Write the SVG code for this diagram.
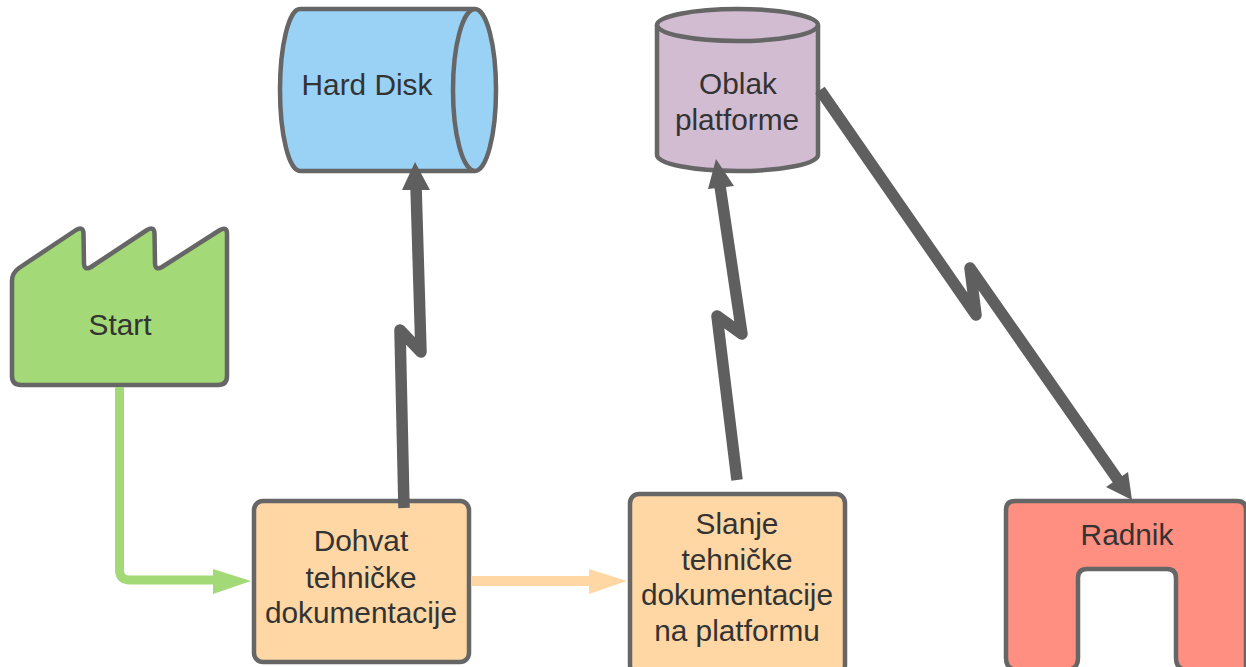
<svg xmlns="http://www.w3.org/2000/svg" width="1246" height="667" viewBox="0 0 1246 667">
<defs>
<style>
.n{stroke:#666666;stroke-width:4.500;stroke-linejoin:round}
.t{font-family:"Liberation Sans",Arial,sans-serif;font-size:29.800px;fill:#333333;text-anchor:middle}
.c{fill:none;stroke-linejoin:round}
.g{stroke:#5f5f5f;stroke-width:11.500}
</style>
</defs>
<rect width="1246" height="667" fill="#ffffff"/>
<g id="start">
<path class="n" fill="#a3d977" d="M12 281Q12 273 19 268L76 230Q83 226 83.500 233L84 263Q84 271 91 267L147 230Q154 226 154.500 233L155 263Q155 271 162 267L220 230Q227 226 227 234L227 376Q227 385 218 385L21 385Q12 385 12 376Z"/>
<text class="t" x="120" y="335">Start</text>
</g>
<g id="hard-disk">
<path class="n" fill="#9ad2f5" d="M300 9L475 9A21 81 0 0 1 475 171L300 171A20 81 0 0 1 300 9Z"/>
<path class="n" fill="none" d="M475 9A22 81 0 0 0 475 171"/>
<text class="t" x="367" y="95">Hard Disk</text>
</g>
<g id="oblak">
<path class="n" fill="#d1bcd2" d="M657 25A80.500 16 0 0 1 818 25L818 155A80.500 16 0 0 1 657 155Z"/>
<path class="n" fill="none" d="M657 25A80.500 16 0 0 0 818 25"/>
<text class="t" x="738" y="94">Oblak</text>
<text class="t" x="737" y="130">platforme</text>
</g>
<g id="dohvat">
<rect class="n" fill="#fed7a5" x="254" y="501" width="215" height="161" rx="9"/>
<text class="t" x="361" y="551">Dohvat</text>
<text class="t" x="361" y="588">tehničke</text>
<text class="t" x="361" y="623">dokumentacije</text>
</g>
<g id="slanje">
<rect class="n" fill="#fed7a5" x="630" y="494" width="215" height="180" rx="9"/>
<text class="t" x="737" y="534">Slanje</text>
<text class="t" x="737" y="570">tehničke</text>
<text class="t" x="737" y="605">dokumentacije</text>
<text class="t" x="737" y="641">na platformu</text>
</g>
<g id="radnik">
<path class="n" fill="#ff8f80" d="M1006 510Q1006 501 1015 501L1237 501Q1246 501 1246 510L1246 670L1188 670Q1176 670 1176 658L1176 578Q1176 569 1167 569L1087 569Q1078 569 1078 578L1078 658Q1078 670 1066 670L1018 670Q1006 670 1006 658Z"/>
<text class="t" x="1127" y="545">Radnik</text>
</g>
<g id="connectors">
<path class="c" stroke="#a3d977" stroke-width="9" d="M119.500 387L119.500 570Q119.500 580 130 580L215 580"/>
<polygon fill="#a3d977" points="213,569 251,581 213,594"/>
<path class="c" stroke="#fed7a5" stroke-width="10" d="M471 581L590 581"/>
<polygon fill="#fed7a5" points="589,569 627,581 589,594"/>
<path class="c g" d="M404 508L400 330L421 352L416 186"/>
<polygon fill="#5f5f5f" points="415,162 430,190 402,190"/>
<path class="c g" d="M737 480L717 316L742 334L720 186"/>
<polygon fill="#5f5f5f" points="716,159 734,186 708,189"/>
<path class="c g" d="M820 90L976 315L970 268L1118 480"/>
<polygon fill="#5f5f5f" points="1132,500 1106,487 1128,472"/>
</g>
</svg>
